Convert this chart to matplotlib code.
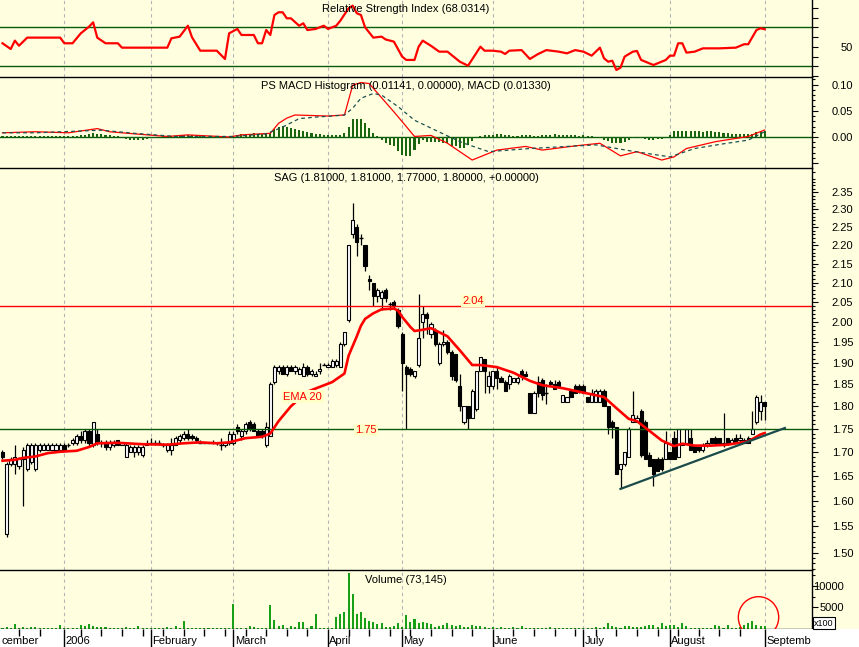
import matplotlib
matplotlib.use('Agg')
import matplotlib.pyplot as plt
from matplotlib.patches import Ellipse, Rectangle
from matplotlib.ticker import NullFormatter

plt.rcParams['font.family'] = ['Liberation Sans', 'DejaVu Sans']

# ---------------- data ----------------
# daily bars, index 0 = early Dec 2005, last = 1 Sep 2006
opens = [
    1.700, 1.535, 1.675, 1.675, 1.670, 1.685, 1.665, 1.680, 1.665, 1.705,
    1.705, 1.705, 1.705, 1.705, 1.705, 1.715, 1.715, 1.720, 1.720, 1.735,
    1.725, 1.745, 1.715, 1.740, 1.720, 1.720, 1.710, 1.715, 1.725, 1.715,
    1.690, 1.700, 1.700, 1.700, 1.695, 1.715, 1.720, 1.720, 1.720, 1.715,
    1.705, 1.705, 1.715, 1.725, 1.730, 1.740, 1.735, 1.730, 1.720, 1.720,
    1.720, 1.720, 1.720, 1.715, 1.715, 1.720, 1.720, 1.755, 1.735, 1.745,
    1.765, 1.760, 1.745, 1.745, 1.715, 1.735, 1.855, 1.880, 1.890, 1.875,
    1.890, 1.880, 1.875, 1.870, 1.890, 1.875, 1.870, 1.880, 1.895, 1.890,
    1.890, 1.895, 1.890, 1.945, 2.005, 2.230, 2.250, 2.220, 2.200, 2.110,
    2.100, 2.065, 2.060, 2.080, 2.045, 2.050, 2.030, 1.970, 1.890, 1.885,
    1.870, 1.895, 2.000, 2.020, 1.970, 1.980, 1.900, 1.945, 1.950, 1.925,
    1.920, 1.845, 1.765, 1.800, 1.775, 1.795, 1.880, 1.910, 1.845, 1.845,
    1.880, 1.865, 1.855, 1.850, 1.855, 1.855, 1.880, 1.875, 1.830, 1.785,
    1.855, 1.860, 1.830, 1.855, 1.850, 1.855, 1.810, 1.810, 1.835, 1.845,
    1.845, 1.845, 1.820, 1.810, 1.810, 1.810, 1.835, 1.800, 1.765, 1.755,
    1.665, 1.675, 1.690, 1.765, 1.765, 1.790, 1.765, 1.695, 1.685, 1.685,
    1.685, 1.685, 1.700, 1.730, 1.690, 1.720, 1.720, 1.730, 1.715, 1.710,
    1.705, 1.715, 1.730, 1.730, 1.730, 1.715, 1.730, 1.720, 1.730, 1.725,
    1.725, 1.730, 1.740, 1.765, 1.790, 1.810]
highs = [
    1.705, 1.680, 1.690, 1.715, 1.690, 1.710, 1.720, 1.720, 1.720, 1.720,
    1.720, 1.720, 1.720, 1.720, 1.720, 1.720, 1.720, 1.730, 1.740, 1.745,
    1.750, 1.750, 1.765, 1.750, 1.725, 1.725, 1.725, 1.725, 1.725, 1.720,
    1.720, 1.715, 1.715, 1.715, 1.715, 1.725, 1.730, 1.725, 1.725, 1.720,
    1.720, 1.730, 1.735, 1.740, 1.745, 1.750, 1.740, 1.735, 1.725, 1.720,
    1.720, 1.725, 1.720, 1.730, 1.720, 1.745, 1.745, 1.760, 1.750, 1.765,
    1.770, 1.765, 1.750, 1.750, 1.765, 1.855, 1.895, 1.895, 1.895, 1.895,
    1.895, 1.895, 1.890, 1.900, 1.895, 1.885, 1.880, 1.900, 1.900, 1.900,
    1.910, 1.910, 1.950, 1.975, 2.200, 2.320, 2.260, 2.230, 2.200, 2.120,
    2.100, 2.085, 2.080, 2.085, 2.050, 2.055, 2.035, 1.975, 1.895, 1.890,
    1.880, 2.070, 2.040, 2.025, 2.000, 1.985, 1.950, 1.980, 1.955, 1.930,
    1.920, 1.875, 1.800, 1.800, 1.840, 1.880, 1.915, 1.910, 1.880, 1.880,
    1.890, 1.870, 1.860, 1.875, 1.865, 1.870, 1.885, 1.880, 1.830, 1.835,
    1.870, 1.865, 1.850, 1.860, 1.860, 1.860, 1.825, 1.820, 1.840, 1.850,
    1.850, 1.850, 1.820, 1.840, 1.840, 1.840, 1.840, 1.800, 1.770, 1.755,
    1.675, 1.700, 1.755, 1.835, 1.780, 1.795, 1.770, 1.700, 1.685, 1.690,
    1.690, 1.745, 1.700, 1.745, 1.750, 1.720, 1.750, 1.750, 1.715, 1.710,
    1.720, 1.725, 1.730, 1.735, 1.730, 1.785, 1.730, 1.730, 1.740, 1.740,
    1.730, 1.735, 1.790, 1.825, 1.825, 1.810]
lows = [
    1.685, 1.530, 1.670, 1.655, 1.665, 1.590, 1.660, 1.675, 1.660, 1.700,
    1.705, 1.705, 1.705, 1.705, 1.705, 1.705, 1.710, 1.715, 1.715, 1.720,
    1.720, 1.710, 1.710, 1.715, 1.710, 1.705, 1.705, 1.710, 1.715, 1.715,
    1.690, 1.700, 1.690, 1.695, 1.690, 1.715, 1.715, 1.715, 1.715, 1.710,
    1.700, 1.695, 1.715, 1.720, 1.725, 1.725, 1.725, 1.720, 1.720, 1.720,
    1.720, 1.720, 1.715, 1.705, 1.710, 1.715, 1.715, 1.740, 1.725, 1.740,
    1.745, 1.745, 1.735, 1.730, 1.710, 1.735, 1.850, 1.875, 1.875, 1.870,
    1.880, 1.875, 1.875, 1.870, 1.870, 1.870, 1.870, 1.875, 1.895, 1.890,
    1.890, 1.890, 1.890, 1.940, 2.000, 2.220, 2.170, 2.200, 2.130, 2.080,
    2.040, 2.050, 2.030, 2.050, 2.030, 2.035, 1.985, 1.835, 1.750, 1.870,
    1.865, 1.890, 1.960, 1.970, 1.960, 1.940, 1.895, 1.940, 1.920, 1.860,
    1.855, 1.790, 1.760, 1.750, 1.775, 1.790, 1.880, 1.830, 1.830, 1.840,
    1.840, 1.855, 1.835, 1.840, 1.855, 1.850, 1.860, 1.870, 1.785, 1.785,
    1.820, 1.815, 1.805, 1.850, 1.840, 1.845, 1.810, 1.810, 1.820, 1.830,
    1.830, 1.830, 1.810, 1.810, 1.810, 1.810, 1.800, 1.740, 1.730, 1.655,
    1.625, 1.670, 1.690, 1.765, 1.765, 1.690, 1.685, 1.670, 1.630, 1.660,
    1.660, 1.685, 1.685, 1.685, 1.690, 1.715, 1.720, 1.705, 1.700, 1.700,
    1.700, 1.710, 1.720, 1.720, 1.720, 1.710, 1.715, 1.720, 1.720, 1.720,
    1.720, 1.720, 1.740, 1.760, 1.770, 1.770]
closes = [
    1.690, 1.675, 1.685, 1.690, 1.685, 1.705, 1.715, 1.715, 1.715, 1.715,
    1.715, 1.715, 1.715, 1.715, 1.715, 1.705, 1.715, 1.725, 1.735, 1.725,
    1.745, 1.720, 1.765, 1.720, 1.720, 1.710, 1.720, 1.720, 1.715, 1.720,
    1.715, 1.710, 1.710, 1.710, 1.710, 1.720, 1.720, 1.720, 1.720, 1.715,
    1.715, 1.715, 1.730, 1.735, 1.740, 1.730, 1.730, 1.725, 1.720, 1.720,
    1.720, 1.720, 1.720, 1.715, 1.720, 1.740, 1.740, 1.745, 1.745, 1.760,
    1.750, 1.745, 1.735, 1.735, 1.755, 1.850, 1.890, 1.890, 1.875, 1.890,
    1.880, 1.890, 1.885, 1.890, 1.875, 1.880, 1.875, 1.885, 1.895, 1.895,
    1.905, 1.905, 1.945, 1.975, 2.200, 2.270, 2.210, 2.220, 2.145, 2.105,
    2.065, 2.080, 2.075, 2.060, 2.045, 2.040, 1.990, 1.900, 1.875, 1.875,
    1.880, 1.960, 2.020, 2.010, 1.995, 1.945, 1.945, 1.950, 1.925, 1.870,
    1.860, 1.800, 1.800, 1.775, 1.835, 1.880, 1.915, 1.880, 1.870, 1.880,
    1.865, 1.855, 1.835, 1.870, 1.865, 1.865, 1.870, 1.870, 1.785, 1.830,
    1.830, 1.825, 1.830, 1.850, 1.840, 1.845, 1.825, 1.820, 1.820, 1.830,
    1.835, 1.830, 1.810, 1.830, 1.835, 1.835, 1.800, 1.755, 1.755, 1.655,
    1.675, 1.700, 1.750, 1.780, 1.775, 1.695, 1.685, 1.670, 1.655, 1.660,
    1.665, 1.720, 1.685, 1.685, 1.750, 1.715, 1.750, 1.705, 1.700, 1.705,
    1.715, 1.720, 1.720, 1.720, 1.720, 1.720, 1.720, 1.725, 1.720, 1.730,
    1.720, 1.720, 1.750, 1.820, 1.810, 1.800]
volumes = [
    300, 350, 250, 1100, 300, 550, 250, 400, 550, 250,
    200, 250, 200, 250, 940, 250, 200, 250, 300, 940,
    650, 1100, 800, 450, 550, 550, 250, 200, 250, 200,
    450, 250, 300, 700, 300, 200, 250, 250, 200, 300,
    450, 250, 600, 300, 1900, 250, 200, 250, 250, 200,
    250, 250, 200, 250, 200, 250, 5860, 300, 250, 250,
    600, 400, 250, 300, 250, 5550, 2100, 800, 940, 300,
    600, 450, 1640, 1560, 300, 600, 3440, 300, 250, 300,
    300, 2730, 3440, 3830, 12900, 8120, 3500, 3980, 2500, 1870,
    1720, 1100, 1330, 450, 450, 700, 1480, 400, 3280, 1560,
    2340, 1300, 1600, 1480, 1100, 500, 700, 900, 1330, 900,
    800, 900, 450, 400, 850, 800, 600, 450, 300, 350,
    300, 400, 250, 300, 350, 300, 600, 300, 300, 250,
    300, 250, 300, 350, 300, 250, 300, 300, 250, 300,
    250, 300, 250, 300, 350, 300, 400, 1330, 800, 550,
    300, 600, 700, 400, 450, 550, 700, 1000, 850, 400,
    1330, 800, 850, 940, 400, 1330, 700, 300, 250, 300,
    300, 250, 300, 850, 800, 300, 850, 300, 250, 350,
    940, 1330, 1870, 940, 800, 730]
macd_hist = [
    0.001, 0.001, 0.002, 0.001, 0.002, 0.001, 0.002, 0.002, 0.001, 0.002,
    0.001, 0.002, 0.001, 0.001, 0.002, 0.001, 0.001, 0.002, 0.002, 0.003,
    0.004, 0.006, 0.008, 0.006, 0.005, 0.004, 0.003, 0.002, 0.001, 0.000,
    -0.003, -0.005, -0.006, -0.006, -0.005, -0.004, -0.002, -0.001, 0.000, 0.001,
    0.001, 0.001, 0.002, 0.002, 0.003, 0.003, 0.003, 0.002, 0.002, 0.001,
    0.000, -0.001, -0.002, -0.002, -0.001, 0.000, 0.002, 0.004, 0.005, 0.005,
    0.006, 0.007, 0.006, 0.005, 0.005, 0.007, 0.015, 0.020, 0.021, 0.020,
    0.018, 0.016, 0.013, 0.011, 0.009, 0.007, 0.006, 0.005, 0.004, 0.003,
    0.003, 0.003, 0.004, 0.008, 0.020, 0.034, 0.035, 0.034, 0.026, 0.018,
    0.008, 0.002, -0.006, -0.011, -0.015, -0.018, -0.027, -0.035, -0.037, -0.037,
    -0.024, -0.013, -0.006, -0.009, -0.010, -0.010, -0.009, -0.011, -0.011, -0.017,
    -0.018, -0.021, -0.021, -0.015, -0.008, 0.000, 0.002, 0.003, 0.004, 0.004,
    0.005, 0.005, 0.004, 0.003, 0.002, 0.002, 0.003, 0.004, 0.003, 0.002,
    0.002, 0.003, 0.004, 0.004, 0.005, 0.004, 0.004, 0.003, 0.004, 0.003,
    0.002, 0.003, 0.002, 0.001, 0.000, -0.002, -0.005, -0.008, -0.011, -0.012,
    -0.011, -0.009, -0.006, -0.002, 0.000, -0.002, -0.004, -0.005, -0.005, -0.004,
    -0.004, 0.000, 0.004, 0.011, 0.012, 0.012, 0.011, 0.011, 0.011, 0.011,
    0.010, 0.011, 0.011, 0.010, 0.010, 0.008, 0.007, 0.006, 0.006, 0.005,
    0.005, 0.005, 0.006, 0.009, 0.012, 0.0114]

rsi_idx = [0, 2, 3, 4, 6, 14, 15, 17, 19, 21, 22, 23, 25, 28, 29, 40, 41, 43, 45, 46,
           48, 52, 54, 55, 57, 58, 61, 62, 63, 64, 65, 66, 67, 68, 69, 70, 72, 73, 74, 76,
           78, 79, 81, 82, 84, 85, 86, 87, 88, 90, 92, 93, 95, 97, 98, 100, 101, 102, 104, 106,
           108, 111, 113, 116, 117, 119, 121, 122, 123, 126, 128, 130, 132, 135, 137, 139, 141, 143, 145, 146,
           147, 148, 149, 150, 151, 153, 154, 155, 158, 161, 162, 163, 164, 165, 166, 168, 170, 174, 178, 180,
           181, 183, 184, 185]
rsi_val = [53.6, 47.7, 56.3, 51.1, 59.4, 59.4, 53.6, 53.6, 63.8, 70.6, 75.1, 59.4, 53.6, 53.6, 49.1, 49.1, 58.7, 60.4, 71.6, 59.7,
           46.0, 46.0, 37.5, 63.8, 68.3, 62.1, 62.1, 53.6, 53.6, 67.2, 62.1, 82.6, 85.4, 85.4, 79.2, 79.2, 71.6, 74.1, 67.2, 68.3,
           71.6, 68.3, 71.6, 76.8, 89.5, 92.2, 84.4, 82.6, 70.0, 59.4, 60.4, 57.5, 55.3, 39.9, 36.5, 36.5, 50.1, 56.3, 51.0, 45.0,
           45.0, 34.7, 30.6, 50.1, 46.0, 46.0, 45.0, 42.6, 46.0, 46.6, 37.5, 42.6, 46.6, 45.0, 43.3, 46.6, 45.0, 40.9, 49.1, 38.2,
           34.7, 35.7, 26.2, 28.6, 39.9, 45.0, 45.7, 36.5, 31.3, 36.5, 40.9, 40.9, 53.6, 53.6, 44.0, 45.0, 48.4, 48.4, 49.1, 52.6,
           52.6, 67.2, 69.0, 68.0]

macd_idx = [0, 8, 16, 23, 26, 32, 40, 45, 55, 58, 65, 67, 69, 71, 79, 83, 85, 87, 89, 92,
            95, 98, 100, 104, 108, 114, 120, 127, 131, 139, 145, 150, 154, 160, 163, 166, 173, 181, 185]
macd_val = [0.008, 0.010, 0.008, 0.016, 0.010, 0.006, 0.001, 0.004, 0.000, 0.004, 0.007, 0.026, 0.036, 0.042, 0.040, 0.042, 0.099, 0.104, 0.102, 0.075,
            0.048, 0.020, 0.001, 0.003, -0.012, -0.044, -0.025, -0.018, -0.025, -0.017, -0.012, -0.036, -0.028, -0.044, -0.038, -0.022, -0.009, 0.001, 0.0133]

sig_idx = [0, 8, 24, 32, 42, 56, 64, 68, 72, 76, 80, 83, 85, 87, 90, 92, 96, 100, 104, 108,
           112, 118, 128, 144, 152, 162, 168, 175, 181, 185]
sig_val = [0.008, 0.008, 0.013, 0.007, 0.001, 0.001, 0.006, 0.019, 0.035, 0.038, 0.040, 0.042, 0.055, 0.074, 0.083, 0.080, 0.058, 0.032, 0.017, 0.002,
           -0.012, -0.028, -0.022, -0.015, -0.026, -0.038, -0.022, -0.013, -0.006, 0.010]

ema_idx = [0, 3, 5, 8, 11, 14, 18, 21, 23, 28, 34, 40, 44, 48, 52, 55, 59, 63, 65, 67,
           70, 74, 77, 80, 83, 84, 86, 87, 88, 90, 92, 95, 96, 97, 99, 100, 102, 104, 108, 111,
           114, 116, 120, 124, 128, 131, 136, 142, 146, 149, 152, 154, 157, 160, 163, 165, 168, 172, 176, 181,
           184, 185]
ema_val = [1.682, 1.684, 1.688, 1.691, 1.698, 1.701, 1.703, 1.711, 1.719, 1.720, 1.717, 1.716, 1.719, 1.721, 1.719, 1.721, 1.730, 1.733, 1.740, 1.767,
           1.800, 1.833, 1.844, 1.855, 1.875, 1.917, 1.964, 1.990, 2.007, 2.021, 2.031, 2.033, 2.028, 2.012, 1.987, 1.977, 1.980, 1.984, 1.964, 1.930,
           1.895, 1.895, 1.890, 1.877, 1.858, 1.848, 1.841, 1.829, 1.821, 1.796, 1.772, 1.767, 1.746, 1.725, 1.713, 1.718, 1.714, 1.714, 1.716, 1.723,
           1.738, 1.741]

trend_idx = [150.0, 189.9]
trend_val = [1.624, 1.752]

month_idx = [15, 36, 56, 79, 97, 119, 141, 162, 185]
month_names = ['2006', 'February', 'March', 'April', 'May', 'June', 'July', 'August', 'Septemb']
first_label = 'cember'

resistance = 2.04
support = 1.75
rsi_levels = [30, 70]

# ---------------- layout ----------------
W, H = 859, 647
AXW = 812
BG = '#FFFFE0'
SPACING = 4.12
X0 = 2.5
XL = -X0 / SPACING
XR = (AXW - X0) / SPACING
GRID = '#B4B4B4'
DKGREEN = '#0A5A0A'

fig = plt.figure(figsize=(W / 100, H / 100), dpi=100)
fig.patch.set_facecolor(BG)


def add_panel(top, bottom, label_right_px=853, top_spine=True):
    ax = fig.add_axes([0, 1 - bottom / H, AXW / W, (bottom - top) / H])
    ax.set_facecolor(BG)
    ax.set_xlim(XL, XR)
    ax.spines['left'].set_visible(False)
    ax.spines['bottom'].set_visible(False)
    ax.spines['top'].set_visible(top_spine)
    for s in ['top', 'right', 'bottom']:
        ax.spines[s].set_color('black')
        ax.spines[s].set_linewidth(1.0)
    ax.yaxis.tick_right()
    ax.tick_params(axis='x', which='both', bottom=False, labelbottom=False)
    pad = (label_right_px - AXW - 6) * 0.72
    ax.tick_params(axis='y', which='major', length=4.5, width=0.8, labelsize=8, pad=pad)
    ax.tick_params(axis='y', which='minor', length=2.5, width=0.8)
    for m in month_idx:
        ax.axvline(m, color=GRID, lw=0.8, ls=(0, (3, 3)), zorder=0.5)
    return ax


def right_align(ax):
    for lab in ax.get_yticklabels():
        lab.set_horizontalalignment('right')


title_kw = dict(fontsize=8, ha='center', va='center', color='black')

# ---- RSI ----
ax1 = add_panel(0, 77, top_spine=False)
ax1.set_ylim(19.0, 98.0)
for lv in rsi_levels:
    ax1.axhline(lv, color=DKGREEN, lw=1.0, zorder=1)
ax1.plot(rsi_idx, rsi_val, color='#FF0000', lw=1.6, zorder=3)
ax1.set_yticks([50])
ax1.set_yticklabels(['50'])
ax1.set_yticks([20, 30, 40, 60, 70, 80, 90], minor=True)
ax1.tick_params(axis='y', which='minor', length=4.5)
right_align(ax1)
ax1.text(0.5, 0.88, 'Relative Strength Index (68.0314)', transform=ax1.transAxes, **title_kw)

# ---- MACD ----
ax2 = add_panel(77, 168)
ax2.set_ylim(-0.0592, 0.1145)
ax2.axhline(0, color=DKGREEN, lw=1.0, zorder=1)
xs = list(range(len(macd_hist)))
ax2.bar(xs, macd_hist, width=0.5, color='#1A6610', zorder=2)
ax2.plot(macd_idx, macd_val, color='#FF0000', lw=0.9, zorder=3)
ax2.plot(sig_idx, sig_val, color='#1F4F4F', lw=0.9, ls=(0, (3, 2.5)), zorder=3)
ax2.set_yticks([-0.05, 0.0, 0.05, 0.10])
ax2.set_yticklabels(['', '0.00', '0.05', '0.10'])
ax2.set_yticks([v / 100 for v in range(-5, 12) if v % 5 != 0], minor=True)
right_align(ax2)
ax2.text(0.5, 0.9, 'PS MACD Histogram (0.01141, 0.00000), MACD (0.01330)',
         transform=ax2.transAxes, **title_kw)

# ---- Price ----
ax3 = add_panel(168, 570)
ax3.set_yscale('log')
ax3.set_ylim(1.468, 2.422)
ax3.axhline(resistance, color='#FF0000', lw=1.0, zorder=3)
ax3.axhline(support, color=DKGREEN, lw=1.0, zorder=3)
for i in range(len(closes)):
    o, h, l, c = opens[i], highs[i], lows[i], closes[i]
    ax3.vlines(i, l, h, color='black', lw=0.9, zorder=2)
    up = c >= o
    lo, hi = (o, c) if up else (c, o)
    if hi - lo < 1e-9:
        ax3.hlines(o, i - 0.45, i + 0.45, color='black', lw=1.0, zorder=2.2)
    else:
        ax3.add_patch(Rectangle((i - 0.38, lo), 0.76, hi - lo,
                                facecolor='white' if up else 'black',
                                edgecolor='black', lw=0.8, zorder=2.1))
ax3.plot(ema_idx, ema_val, color='#FF0000', lw=1.9, zorder=4)
ax3.plot(trend_idx, trend_val, color='#1A4A4A', lw=1.6, zorder=4)
major = [round(1.50 + 0.05 * k, 2) for k in range(18)]
ax3.set_yticks(major)
ax3.set_yticklabels(['%.2f' % v for v in major])
ax3.set_yticks([round(1.47 + 0.01 * k, 2) for k in range(95)
                if round((1.47 + 0.01 * k) * 100) % 5 != 0], minor=True)
ax3.yaxis.set_minor_formatter(NullFormatter())
right_align(ax3)
lab_box = dict(boxstyle='square,pad=0.12', facecolor='#FFFFC8', edgecolor='none')
ax3.text(114.2, 2.052, '%.2f' % resistance, color='#FF0000', fontsize=8,
         ha='center', va='center', bbox=lab_box, zorder=5)
ax3.text(88.2, 1.748, '%.2f' % support, color='#FF0000', fontsize=8,
         ha='center', va='center', bbox=lab_box, zorder=5)
ax3.text(72.9, 1.822, 'EMA 20', color='#FF0000', fontsize=8,
         ha='center', va='center', bbox=lab_box, zorder=5)
ax3.text(0.5, 0.975, 'SAG (1.81000, 1.81000, 1.77000, 1.80000, +0.00000)',
         transform=ax3.transAxes, **title_kw)

# ---- Volume ----
ax4 = add_panel(570, 629, label_right_px=844)
ax4.spines['bottom'].set_visible(True)
ax4.set_ylim(0, 13626)
ax4.bar(range(len(volumes)), volumes, width=0.5, color='#17A017', zorder=2)
ax4.set_yticks([5000, 10000])
ax4.set_yticklabels(['5000', '10000'])
ax4.set_yticks([2500, 7500, 12500], minor=True)
right_align(ax4)
ax4.text(0.5, 0.83, 'Volume (73,145)', transform=ax4.transAxes, **title_kw)
ax4.add_patch(Ellipse((183.5, 2700), 9.8, 9530, fill=False, edgecolor='#FF0000',
                      lw=1.0, zorder=5))
fig.text(814 / W, 1 - 623 / H, 'x100', fontsize=6.5, ha='left', va='center', zorder=10,
         bbox=dict(boxstyle='square,pad=0.15', facecolor='white', edgecolor='black', lw=0.8))

# ---- date strip (white band under the volume panel) ----
axw = fig.add_axes([0, 0, 1, 18 / H])
axw.set_facecolor('white')
axw.set_xticks([])
axw.set_yticks([])
for s in axw.spines.values():
    s.set_visible(False)

ax5 = fig.add_axes([0, 0, AXW / W, 18 / H])
ax5.set_xlim(XL, XR)
ax5.set_ylim(0, 1)
ax5.axis('off')
for m in month_idx:
    ax5.vlines(m, 0, 1, color='black', lw=1.0)
for w in range(4, 186, 5):
    if all(abs(w - m) > 1 for m in month_idx):
        ax5.vlines(w, 0.62, 1, color='black', lw=1.0)
ax5.text(2 / SPACING + XL, 0.33, first_label, fontsize=8, ha='left', va='center')
for m, name in zip(month_idx, month_names):
    ax5.text(m + 0.35, 0.33, name, fontsize=8, ha='left', va='center')

fig.savefig('out.png', dpi=100, facecolor=fig.get_facecolor())
